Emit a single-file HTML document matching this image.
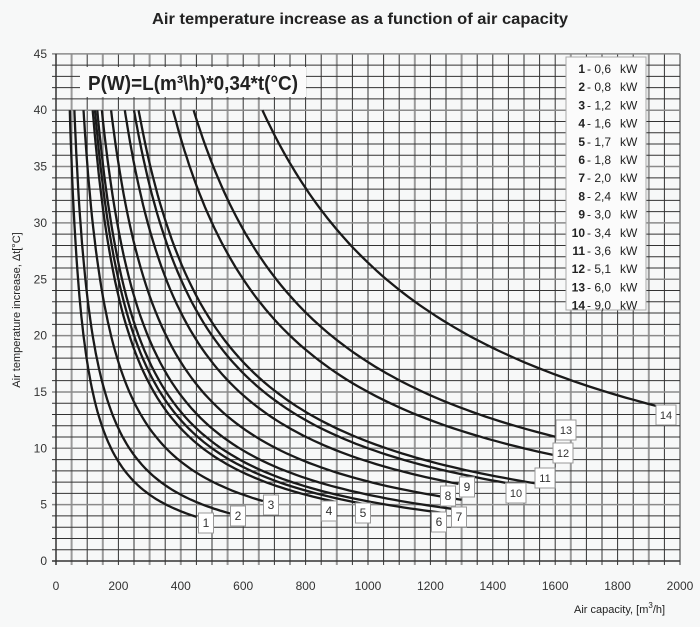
<!DOCTYPE html>
<html><head><meta charset="utf-8"><style>
html,body{margin:0;padding:0;background:#f7f8f8;}
svg{display:block;font-family:"Liberation Sans",sans-serif;}
</style></head><body>
<svg id="s" width="700" height="627" viewBox="0 0 700 627" xmlns="http://www.w3.org/2000/svg">
<rect width="700" height="627" fill="#f7f8f8"/>
<text x="360" y="24" text-anchor="middle" font-size="16" font-weight="bold" fill="#222" textLength="416" lengthAdjust="spacingAndGlyphs">Air temperature increase as a function of air capacity</text>
<g id="grid"></g>
<g id="curves" fill="none" stroke="#1a1a1a" stroke-width="2.3"></g>
<g id="ticks" font-size="12" fill="#333"></g>
<rect x="80" y="67" width="226" height="30" fill="#fbfbfb"/>
<text x="88" y="90" font-size="20" font-weight="bold" fill="#222" textLength="210" lengthAdjust="spacingAndGlyphs">P(W)=L(m³\h)*0,34*t(°C)</text>
<g id="legend"></g>
<g id="labels" font-size="12" fill="#333"></g>
<text transform="translate(20,310) rotate(-90)" text-anchor="middle" font-size="11" fill="#222">Air temperature increase, Δt[°C]</text>
<text x="574" y="613" font-size="11" fill="#222">Air capacity, [m<tspan dy="-5" font-size="8">3</tspan><tspan dy="5">/h]</tspan></text>
</svg>
<script>
var NS="http://www.w3.org/2000/svg";
function X(v){return 56+v*0.312;}
function Y(v){return 561-v*11.27;}
function el(p,t,a,txt){var e=document.createElementNS(NS,t);for(var k in a)e.setAttribute(k,a[k]);if(txt!==undefined)e.textContent=txt;p.appendChild(e);return e;}
var g=document.getElementById('grid');
var grays=[50,150,300,400,550,650,900,1150,1300,1650,1900];
for(var v=50;v<=2000;v+=50){var gr=grays.indexOf(v)>=0;
 el(g,'line',{x1:X(v),x2:X(v),y1:Y(45),y2:Y(0)+4,stroke:gr?'#9a9a9a':'#333','stroke-width':gr?2:1});}
for(var t=1;t<=45;t++){var gr=(t%5==0);
 el(g,'line',{x1:X(0)-4,x2:X(2000),y1:Y(t),y2:Y(t),stroke:gr?'#8a8a8a':'#333','stroke-width':gr?1.5:1});}
el(g,'line',{x1:X(0),x2:X(0),y1:Y(45),y2:Y(0)+4,stroke:'#333','stroke-width':1.5});
el(g,'line',{x1:X(0)-4,x2:X(2000),y1:Y(0),y2:Y(0),stroke:'#333','stroke-width':1.5});
var tk=document.getElementById('ticks');
for(var v=0;v<=2000;v+=200)el(tk,'text',{x:X(v),y:590,'text-anchor':'middle'},String(v));
for(var t=0;t<=45;t+=5)el(tk,'text',{x:47,y:Y(t)+4,'text-anchor':'end'},String(t));
var P=[0.6,0.8,1.2,1.6,1.7,1.8,2.0,2.4,3.0,3.4,3.6,5.1,6.0,9.0];
var Lend=[450,565,663,900,1000,1245,1280,1300,1290,1440,1535,1595,1600,1925];
var cg=document.getElementById('curves');
for(var i=0;i<P.length;i++){var k=P[i]*1000/0.34;var L0=k/40;var d='';
 for(var j=0;j<=80;j++){var L=L0+(Lend[i]-L0)*Math.pow(j/80,1.6);var tt=k/L;d+=(j?'L':'M')+X(L).toFixed(1)+' '+Y(tt).toFixed(1);}
 el(cg,'path',{d:d});}
var lg=document.getElementById('legend');
el(lg,'rect',{x:566,y:57,width:80,height:253,fill:'#fbfbfb',stroke:'#aaa'});
var pl=['0,6','0,8','1,2','1,6','1,7','1,8','2,0','2,4','3,0','3,4','3,6','5,1','6,0','9,0'];
for(var i=0;i<14;i++){var y=73+i*18.2;
 var t=el(lg,'text',{x:585,y:y,'font-size':12,fill:'#222','text-anchor':'end','font-weight':'bold'},String(i+1));
 el(lg,'text',{x:587,y:y,'font-size':12,fill:'#222'},'- '+pl[i]);
 el(lg,'text',{x:620,y:y,'font-size':12,fill:'#222'},'kW');}
var lb=[[206,523],[238,516],[271,505],[329,511],[363,513],[439,522],[459,517],[448,496],[467,487],[516,493],[545,478],[563,453],[566,430],[666,415]];
var lgp=document.getElementById('labels');
for(var i=0;i<14;i++){var w=i>=9?20:15;var c=lb[i];
 el(lgp,'rect',{x:c[0]-w/2,y:c[1]-10,width:w,height:20,fill:'#fff',stroke:'#999'});
 el(lgp,'text',{x:c[0],y:c[1]+4,'text-anchor':'middle','font-size':i>=9?11:12},String(i+1));}
</script>
</body></html>
